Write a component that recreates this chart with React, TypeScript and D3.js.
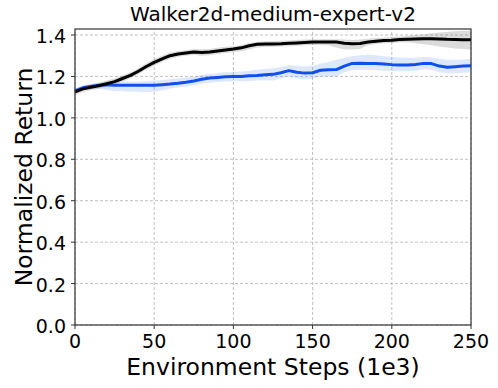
import { useRef, useEffect } from "react";
import * as d3 from "d3";

// environment steps (1e3)
const steps = [
  0, 5, 10, 15, 20, 25, 30, 35, 40, 45, 50, 55, 60, 65, 70, 75, 80, 85, 90, 95, 100,
  105, 110, 115, 120, 125, 130, 135, 140, 145, 150, 155, 160, 165, 170, 175, 180,
  185, 190, 195, 200, 205, 210, 215, 220, 225, 230, 235, 240, 245, 250,
];

// black run
const blackMean = [
  1.125, 1.14, 1.148, 1.155, 1.165, 1.175, 1.19, 1.205, 1.225, 1.248, 1.268, 1.285,
  1.3, 1.308, 1.313, 1.318, 1.316, 1.318, 1.323, 1.328, 1.332, 1.338, 1.348, 1.355,
  1.356, 1.357, 1.358, 1.36, 1.362, 1.364, 1.366, 1.366, 1.366, 1.366, 1.36, 1.358,
  1.359, 1.366, 1.37, 1.373, 1.375, 1.378, 1.38, 1.381, 1.382, 1.382, 1.381, 1.379,
  1.378, 1.377, 1.377,
];
const blackLo = [
  1.11, 1.125, 1.133, 1.14, 1.15, 1.16, 1.175, 1.19, 1.21, 1.233, 1.252, 1.27, 1.285,
  1.295, 1.3, 1.305, 1.3, 1.302, 1.308, 1.313, 1.318, 1.322, 1.33, 1.34, 1.342, 1.343,
  1.344, 1.346, 1.348, 1.35, 1.352, 1.352, 1.35, 1.34, 1.33, 1.33, 1.332, 1.35, 1.356,
  1.36, 1.362, 1.364, 1.365, 1.36, 1.355, 1.35, 1.345, 1.34, 1.335, 1.332, 1.33,
];
const blackHi = [
  1.14, 1.155, 1.163, 1.17, 1.18, 1.19, 1.205, 1.22, 1.24, 1.263, 1.284, 1.3, 1.315,
  1.322, 1.327, 1.332, 1.331, 1.333, 1.338, 1.343, 1.346, 1.352, 1.362, 1.368, 1.37,
  1.371, 1.372, 1.374, 1.376, 1.378, 1.38, 1.38, 1.38, 1.38, 1.378, 1.376, 1.378,
  1.382, 1.385, 1.387, 1.39, 1.393, 1.396, 1.4, 1.404, 1.408, 1.412, 1.415, 1.418,
  1.42, 1.42,
];

// blue run
const blueMean = [
  1.13, 1.145, 1.152, 1.158, 1.16, 1.158, 1.157, 1.157, 1.157, 1.157, 1.157, 1.16,
  1.163, 1.167, 1.172, 1.178, 1.186, 1.192, 1.195, 1.198, 1.2, 1.2, 1.203, 1.205,
  1.208, 1.21, 1.218, 1.228, 1.22, 1.216, 1.218, 1.23, 1.232, 1.233, 1.25, 1.263,
  1.264, 1.263, 1.262, 1.26, 1.257, 1.255, 1.255, 1.258, 1.263, 1.262, 1.25, 1.244,
  1.247, 1.25, 1.252,
];
const blueLo = [
  1.12, 1.135, 1.14, 1.14, 1.135, 1.13, 1.128, 1.127, 1.126, 1.125, 1.126, 1.132,
  1.14, 1.146, 1.152, 1.158, 1.165, 1.17, 1.173, 1.175, 1.177, 1.177, 1.178, 1.18,
  1.18, 1.18, 1.19, 1.2, 1.19, 1.185, 1.19, 1.2, 1.198, 1.2, 1.22, 1.23, 1.232, 1.232,
  1.23, 1.228, 1.226, 1.225, 1.225, 1.228, 1.235, 1.232, 1.22, 1.215, 1.215, 1.218,
  1.22,
];
const blueHi = [
  1.14, 1.155, 1.162, 1.17, 1.175, 1.175, 1.175, 1.175, 1.176, 1.178, 1.18, 1.183,
  1.186, 1.19, 1.195, 1.2, 1.207, 1.213, 1.217, 1.22, 1.222, 1.224, 1.228, 1.232,
  1.236, 1.24, 1.245, 1.255, 1.25, 1.248, 1.25, 1.262, 1.27, 1.28, 1.29, 1.298,
  1.302, 1.305, 1.302, 1.298, 1.295, 1.292, 1.29, 1.29, 1.295, 1.292, 1.285, 1.28,
  1.28, 1.282, 1.285,
];

const xTicks = [0, 50, 100, 150, 200, 250];
const yTicks = [0, 0.2, 0.4, 0.6, 0.8, 1.0, 1.2, 1.4];

const FONT = "'DejaVu Sans', sans-serif";

const App = () => {
  const svgRef = useRef<SVGSVGElement>(null);

  useEffect(() => {
    const w = 498;
    const h = 388;
    const m = { left: 75, right: 27, top: 29, bottom: 63 };
    const svg = d3.select(svgRef.current).attr("width", w).attr("height", h);
    svg.selectAll("*").remove();

    const x = d3.scaleLinear().domain([0, 250]).range([m.left, w - m.right]);
    const y = d3.scaleLinear().domain([0, 1.429]).range([h - m.bottom, m.top]);

    // grid
    const grid = svg.append("g");
    xTicks.forEach((t) => {
      grid
        .append("line")
        .attr("x1", x(t))
        .attr("x2", x(t))
        .attr("y1", y.range()[0])
        .attr("y2", y.range()[1])
        .attr("stroke", "#b0b0b0")
        .attr("stroke-width", 0.8)
        .attr("stroke-dasharray", "3,2");
    });
    yTicks.forEach((t) => {
      grid
        .append("line")
        .attr("x1", x.range()[0])
        .attr("x2", x.range()[1])
        .attr("y1", y(t))
        .attr("y2", y(t))
        .attr("stroke", "#b0b0b0")
        .attr("stroke-width", 0.8)
        .attr("stroke-dasharray", "3,2");
    });

    const series = [
      { mean: blackMean, lo: blackLo, hi: blackHi, color: "#000000", fill: "rgba(110,110,110,0.25)" },
      { mean: blueMean, lo: blueLo, hi: blueHi, color: "#0f4ff0", fill: "rgba(90,140,245,0.2)" },
    ];
    // bands first
    series.forEach((s) => {
      svg
        .append("path")
        .attr(
          "d",
          d3
            .area<number>()
            .x((d, i) => x(steps[i]))
            .y0((d, i) => y(s.lo[i]))
            .y1((d, i) => y(s.hi[i]))(s.mean)
        )
        .attr("fill", s.fill);
    });
    const line = d3
      .line<number>()
      .x((d, i) => x(steps[i]))
      .y((d) => y(d));
    series
      .slice()
      .reverse()
      .forEach((s) => {
        svg
          .append("path")
          .attr("d", line(s.mean))
          .attr("fill", "none")
          .attr("stroke", s.color)
          .attr("stroke-width", 3)
          .attr("stroke-linejoin", "round");
      });

    // frame
    svg
      .append("rect")
      .attr("x", x.range()[0])
      .attr("y", y.range()[1])
      .attr("width", x.range()[1] - x.range()[0])
      .attr("height", y.range()[0] - y.range()[1])
      .attr("fill", "none")
      .attr("stroke", "#333")
      .attr("stroke-width", 1.2);

    // ticks
    xTicks.forEach((t) => {
      svg
        .append("line")
        .attr("x1", x(t))
        .attr("x2", x(t))
        .attr("y1", y(0))
        .attr("y2", y(0) + 4)
        .attr("stroke", "#333");
      svg
        .append("text")
        .attr("x", x(t))
        .attr("y", 348)
        .attr("text-anchor", "middle")
        .style("font-family", FONT)
        .style("font-size", "19px")
        .text(String(t));
    });
    yTicks.forEach((t) => {
      svg
        .append("line")
        .attr("x1", x(0) - 4)
        .attr("x2", x(0))
        .attr("y1", y(t))
        .attr("y2", y(t))
        .attr("stroke", "#333");
      svg
        .append("text")
        .attr("x", x(0) - 9)
        .attr("y", y(t) + 8)
        .attr("text-anchor", "end")
        .style("font-family", FONT)
        .style("font-size", "19px")
        .text(t.toFixed(1));
    });

    svg
      .append("text")
      .attr("x", (x.range()[0] + x.range()[1]) / 2)
      .attr("y", 375)
      .attr("text-anchor", "middle")
      .style("font-family", FONT)
      .style("font-size", "23.5px")
      .text("Environment Steps (1e3)");
    svg
      .append("text")
      .attr("transform", `translate(32, ${(y.range()[0] + y.range()[1]) / 2}) rotate(-90)`)
      .attr("text-anchor", "middle")
      .style("font-family", FONT)
      .style("font-size", "23.5px")
      .text("Normalized Return");
    svg
      .append("text")
      .attr("x", (x.range()[0] + x.range()[1]) / 2)
      .attr("y", 21)
      .attr("text-anchor", "middle")
      .style("font-family", FONT)
      .style("font-size", "20px")
      .text("Walker2d-medium-expert-v2");
  }, []);

  return (
    <div style={{ position: "absolute", left: 0, top: 0 }}>
      <svg ref={svgRef}></svg>
    </div>
  );
};

export default App;
